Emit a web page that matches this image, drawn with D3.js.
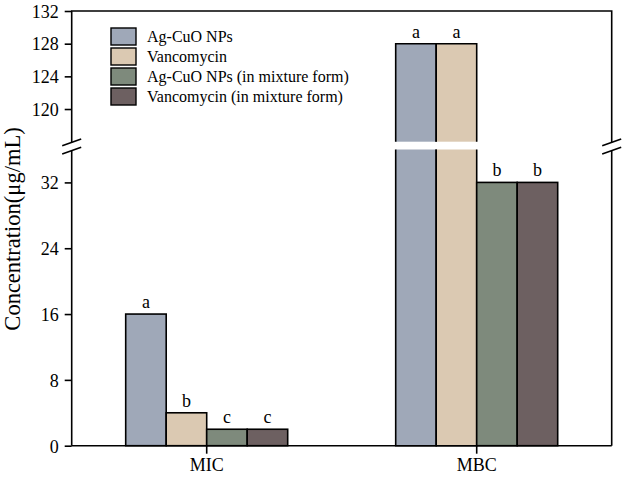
<!DOCTYPE html>
<html lang="en">
<head>
	<meta charset="UTF-8">
	<title>MIC / MBC</title>
	<style>
		*{margin:0;padding:0;}
		body{background:#fff;}
		svg text{font-family:"Liberation Serif","Times New Roman",serif;fill:#000;}
	</style>
</head>
<body>
	<div id="container"></div>
	<script src="https://cdn.jsdelivr.net/npm/d3@7"></script>
	<script>
		var categories = ['MIC', 'MBC']
		var seriesNames = ['Ag-CuO NPs', 'Vancomycin', 'Ag-CuO NPs (in mixture form)', 'Vancomycin (in mixture form)']
		var colors = ['#9fa8b8', '#dbc9b2', '#7e8a7c', '#6d6061']
		var agCuO = [16, 128]
		var vanco = [4, 128]
		var agCuOMix = [2, 32]
		var vancoMix = [2, 32]
		var letters = [['a', 'b', 'c', 'c'], ['a', 'a', 'b', 'b']]
		var lowTicks = [0, 8, 16, 24, 32]
		var highTicks = [120, 124, 128, 132]

		var values = [agCuO, vanco, agCuOMix, vancoMix]
		var data = categories.map(function (c, i) {
			return {cat: c, bars: values.map(function (v, j) {
				return {name: seriesNames[j], value: v[i], color: colors[j], letter: letters[i][j]}
			})}
		})

		var W = 624, H = 479
		var left = 71.7, right = 611.7
		var svg = d3.select('#container').append('svg').attr('width', W).attr('height', H)

		// two pieces of the broken y axis
		var yLow = d3.scaleLinear().domain([0, 36]).range([445.7, 149.5])
		var yHigh = d3.scaleLinear().domain([116, 132]).range([141.7, 11])
		var breakVal = 36

		var x0 = d3.scaleBand().domain(categories).range([left, right]).padding(0)
		var x1 = d3.scaleBand().domain(seriesNames).range([0, x0.bandwidth() * 0.6])
		var groupOff = x0.bandwidth() * 0.2

		var g = svg.append('g')
		var grp = g.selectAll('g.grp').data(data).enter().append('g')
			.attr('transform', function (d) { return 'translate(' + (x0(d.cat) + groupOff) + ',0)' })

		grp.each(function (d) {
			var sel = d3.select(this)
			d.bars.forEach(function (b) {
				var bx = x1(b.name), bw = x1.bandwidth()
				if (b.value <= breakVal) {
					sel.append('rect')
						.attr('x', bx).attr('y', yLow(b.value))
						.attr('width', bw).attr('height', yLow(0) - yLow(b.value))
						.attr('fill', b.color).attr('stroke', '#000').attr('stroke-width', 1.6)
					sel.append('text').attr('x', bx + bw / 2).attr('y', yLow(b.value) - 6)
						.attr('text-anchor', 'middle').attr('font-size', 18).text(b.letter)
				} else {
					// lower piece
					sel.append('rect')
						.attr('x', bx).attr('y', yLow(breakVal))
						.attr('width', bw).attr('height', yLow(0) - yLow(breakVal))
						.attr('fill', b.color)
					sel.append('path')
						.attr('d', 'M' + bx + ',' + yLow(breakVal) + 'V' + yLow(0) + 'H' + (bx + bw) + 'V' + yLow(breakVal))
						.attr('fill', 'none').attr('stroke', '#000').attr('stroke-width', 1.6)
					// upper piece
					sel.append('rect')
						.attr('x', bx).attr('y', yHigh(b.value))
						.attr('width', bw).attr('height', yHigh(116) - yHigh(b.value))
						.attr('fill', b.color)
					sel.append('path')
						.attr('d', 'M' + bx + ',' + yHigh(116) + 'V' + yHigh(b.value) + 'H' + (bx + bw) + 'V' + yHigh(116))
						.attr('fill', 'none').attr('stroke', '#000').attr('stroke-width', 1.6)
					sel.append('text').attr('x', bx + bw / 2).attr('y', yHigh(b.value) - 6)
						.attr('text-anchor', 'middle').attr('font-size', 18).text(b.letter)
				}
			})
		})

		// axes
		var axLow = d3.axisLeft(yLow).tickValues(lowTicks).tickSize(7).tickPadding(6).tickSizeOuter(0)
		var axHigh = d3.axisLeft(yHigh).tickValues(highTicks).tickSize(7).tickPadding(6).tickSizeOuter(0)
		var gl = svg.append('g').attr('transform', 'translate(' + left + ',0)').call(axLow)
		var gh = svg.append('g').attr('transform', 'translate(' + left + ',0)').call(axHigh)
		;[gl, gh].forEach(function (a) {
			a.select('.domain').remove()
			a.selectAll('line').attr('stroke', '#000').attr('stroke-width', 1.6)
			a.selectAll('text').attr('font-size', 18).attr('font-family', '"Liberation Serif",serif').attr('dy', '0.35em')
		})

		var bLow = 150.7, bHigh = 142.3
		var frame = svg.append('g').attr('fill', 'none').attr('stroke', '#000').attr('stroke-width', 1.6)
		// left axis
		frame.append('path').attr('d', 'M' + left + ',' + yLow(0) + 'V' + bLow)
		frame.append('path').attr('d', 'M' + left + ',' + bHigh + 'V' + yHigh(132) + 'H' + right + 'V' + bHigh)
		frame.append('path').attr('d', 'M' + right + ',' + bLow + 'V' + yLow(0))
		// break marks
		;[left, right].forEach(function (cx) {
			[bHigh, bLow].forEach(function (cy) {
				frame.append('line').attr('x1', cx - 9.5).attr('y1', cy + 3.4).attr('x2', cx + 9.5).attr('y2', cy - 3.4)
			})
		})

		// x axis
		var gx = svg.append('g').attr('transform', 'translate(0,' + yLow(0) + ')')
			.call(d3.axisBottom(x0).tickSize(8).tickPadding(5).tickSizeOuter(0))
		gx.select('.domain').attr('stroke', '#000').attr('stroke-width', 1.6).attr('d', 'M' + left + ',0H' + right)
		gx.selectAll('line').attr('stroke', '#000').attr('stroke-width', 1.6)
		gx.selectAll('text').attr('font-size', 18).attr('font-family', '"Liberation Serif",serif')

		// y title
		svg.append('text').attr('transform', 'translate(20,229) rotate(-90)')
			.attr('text-anchor', 'middle').attr('font-size', 22.5).text('Concentration(μg/mL)')

		// legend
		var lg = svg.append('g').attr('transform', 'translate(111,28)')
		var item = lg.selectAll('g').data(seriesNames).enter().append('g')
			.attr('transform', function (d, i) { return 'translate(0,' + (i * 20) + ')' })
		item.append('rect').attr('width', 25).attr('height', 17)
			.attr('fill', function (d, i) { return colors[i] }).attr('stroke', '#000').attr('stroke-width', 1.4)
		item.append('text').attr('x', 36).attr('y', 8.5).attr('dy', '0.35em').attr('font-size', 16).text(function (d) { return d })
	</script>
</body>
</html>
